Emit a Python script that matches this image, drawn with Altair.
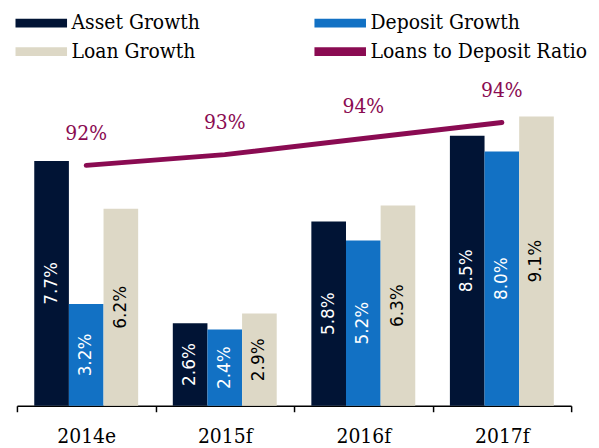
import altair as alt
import pandas as pd

years = ["2014e", "2015f", "2016f", "2017f"]
series = ["Asset Growth", "Deposit Growth", "Loan Growth"]
asset = [7.7, 2.6, 5.8, 8.5]
deposit = [3.2, 2.4, 5.2, 8.0]
loan = [6.2, 2.9, 6.3, 9.1]
ratio_name = "Loans to Deposit Ratio"
ratio = [92.0, 92.6, 93.5, 94.4]
colors = ["#011435", "#1271c4", "#ddd8c6", "#8a0b52"]

SERIF = "DejaVu Serif Condensed, DejaVu Serif"
SANS = "DejaVu Sans"

rows = []
for i, yr in enumerate(years):
    for s, vals in zip(series, [asset, deposit, loan]):
        rows.append({"year": yr, "series": s, "value": vals[i]})
bars_df = pd.DataFrame(rows)
line_df = pd.DataFrame({"year": years, "ratio": ratio, "series": ratio_name})

x = alt.X(
    "year:N", sort=years, title=None,
    scale=alt.Scale(paddingInner=0, paddingOuter=0),
    axis=alt.Axis(labelAngle=0, domainColor="black", domainWidth=1.5,
                  tickColor="black", tickWidth=1.5, tickSize=6, tickBand="extent",
                  labelFont=SERIF, labelFontSize=21, labelColor="black",
                  labelPadding=14, grid=False),
)
xoff = alt.XOffset("series:N", sort=series,
                   scale=alt.Scale(domain=series, paddingInner=0, paddingOuter=0.5))

bars = alt.Chart(bars_df).mark_bar().encode(
    x=x, xOffset=xoff,
    y=alt.Y("value:Q", scale=alt.Scale(domain=[0, 10]), axis=None),
    color=alt.Color(
        "series:N",
        scale=alt.Scale(domain=series + [ratio_name], range=colors),
        legend=alt.Legend(
            orient="none", legendX=6, legendY=-84, columns=2, direction="horizontal",
            title=None,
            symbolType="M-1.41,-0.24L1.41,-0.24L1.41,0.24L-1.41,0.24Z", symbolSize=1354,
            symbolStrokeWidth=0, labelFont=SERIF, labelFontSize=21,
            labelColor="black", labelOffset=12, columnPadding=114, rowPadding=0,
            labelLimit=400,
        ),
    ),
)

bar_text = alt.Chart(bars_df).transform_calculate(
    mid="datum.value / 2",
    label="format(datum.value, '.1f') + '%'",
).mark_text(angle=270, font=SANS, fontSize=17, align="center", baseline="middle").encode(
    x=x, xOffset=xoff,
    y=alt.Y("mid:Q", scale=alt.Scale(domain=[0, 10]), axis=None),
    text="label:N",
    color=alt.condition("datum.series == 'Loan Growth'", alt.value("black"), alt.value("white")),
)

line = alt.Chart(line_df).mark_line(strokeWidth=5, strokeCap="round", color=colors[3]).encode(
    x=x,
    y=alt.Y("ratio:Q", scale=alt.Scale(domain=[78.55, 96.33]), axis=None),
)

line_text = alt.Chart(line_df).transform_calculate(
    label="format(datum.ratio, '.0f') + '%'"
).mark_text(dy=-32, font=SERIF, fontSize=21, color=colors[3]).encode(
    x=x,
    y=alt.Y("ratio:Q", scale=alt.Scale(domain=[78.55, 96.33]), axis=None),
    text="label:N",
)

chart = alt.layer(bars, bar_text, line, line_text).resolve_scale(
    y="independent"
).properties(
    width=558, height=320,
    autosize=alt.AutoSizeParams(type="none"),
    padding={"left": 9, "top": 79, "right": 20, "bottom": 40},
).configure_view(stroke=None)

chart.save("out.html", embed_options={"renderer": "svg", "actions": False})
